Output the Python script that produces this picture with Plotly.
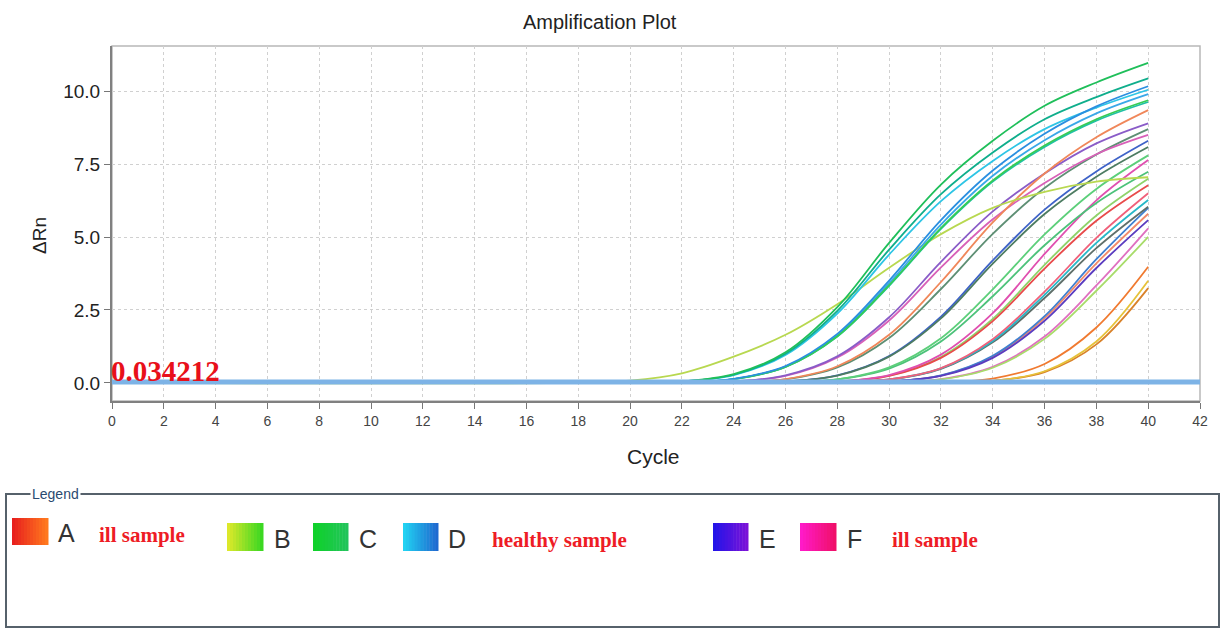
import plotly.graph_objects as go

# ---------------- data ----------------
CYCLES = [1, 18, 20, 22, 24, 26, 28, 30, 32, 34, 36, 38, 40]
X_TICKS = list(range(0, 43, 2))
Y_TICKS = [0.0, 2.5, 5.0, 7.5, 10.0]
THRESHOLD = 0.034212

# group C (green) / D (cyan-blue): healthy samples, early rise
c_green_1 = [0, 0, 0, .05, .30, 1.05, 2.60, 4.80, 6.80, 8.30, 9.50, 10.30, 10.97]
c_teal_2 = [0, 0, 0, .05, .28, 1.00, 2.47, 4.57, 6.47, 7.90, 9.04, 9.80, 10.44]
d_blue_3 = [0, 0, 0, .02, .14, .58, 1.68, 3.51, 5.58, 7.28, 8.54, 9.48, 10.17]
d_cyan_4 = [0, 0, 0, .05, .27, .96, 2.38, 4.40, 6.23, 7.61, 8.70, 9.44, 10.05]
c_green_5 = [0, 0, 0, .02, .13, .55, 1.60, 3.35, 5.31, 6.94, 8.14, 9.04, 9.69]
c_teal_6 = [0, 0, 0, .02, .13, .55, 1.59, 3.33, 5.28, 6.90, 8.09, 8.99, 9.63]
d_cyan_7 = [0, 0, 0, .02, .13, .56, 1.63, 3.42, 5.43, 7.10, 8.32, 9.24, 9.90]
b_yellow_8 = [0, .01, .08, .33, .90, 1.65, 2.70, 3.95, 5.10, 6.00, 6.55, 6.90, 7.05]
a_orange_9 = [0, 0, 0, 0, .02, .13, .57, 1.65, 3.46, 5.50, 7.18, 8.42, 9.35]
e_purple_10 = [0, 0, 0, 0, .05, .26, .91, 2.25, 4.15, 5.88, 7.18, 8.21, 8.90]
f_magenta_11 = [0, 0, 0, 0, .05, .24, .87, 2.14, 3.96, 5.61, 6.85, 7.84, 8.50]
x_gray_12 = [0, 0, 0, 0, .02, .12, .53, 1.54, 3.22, 5.11, 6.68, 7.83, 8.70]
x_gray_13 = [0, 0, 0, 0, 0, .05, .25, .90, 2.21, 4.09, 5.79, 7.07, 8.09]
e_blue_14 = [0, 0, 0, 0, 0, .05, .26, .92, 2.27, 4.20, 5.94, 7.25, 8.30]
c_green_15 = [0, 0, 0, 0, 0, .02, .12, .53, 1.53, 3.21, 5.09, 6.65, 7.80]
c_green_16 = [0, 0, 0, 0, 0, .02, .12, .49, 1.42, 2.97, 4.72, 6.17, 7.24]
f_magenta_17 = [0, 0, 0, 0, 0, 0, .05, .27, .97, 2.39, 4.42, 6.26, 7.64]
a_red_18 = [0, 0, 0, 0, 0, 0, .04, .24, .86, 2.12, 3.92, 5.56, 6.78]
b_lime_19 = [0, 0, 0, 0, 0, 0, .05, .25, .89, 2.19, 4.05, 5.74, 7.00]
a_pink_20 = [0, 0, 0, 0, 0, 0, .02, .12, .51, 1.50, 3.13, 4.97, 6.50]
d_cyan_21 = [0, 0, 0, 0, 0, 0, .02, .12, .50, 1.44, 3.02, 4.80, 6.27]
x_gray_22 = [0, 0, 0, 0, 0, 0, .02, .11, .48, 1.39, 2.91, 4.62, 6.04]
e_purple_23 = [0, 0, 0, 0, 0, 0, 0, .05, .24, .86, 2.13, 3.94, 5.58]
d_blue_24 = [0, 0, 0, 0, 0, 0, 0, .05, .26, .93, 2.29, 4.24, 6.00]
a_salmon_25 = [0, 0, 0, 0, 0, 0, 0, .05, .25, .90, 2.22, 4.10, 5.80]
b_lime_26 = [0, 0, 0, 0, 0, 0, 0, .02, .12, .52, 1.51, 3.16, 5.01]
f_pink_27 = [0, 0, 0, 0, 0, 0, 0, .02, .13, .55, 1.59, 3.34, 5.30]
a_orange_28 = [0, 0, 0, 0, 0, 0, 0, 0, .02, .15, .65, 1.90, 3.98]
a_orange_29 = [0, 0, 0, 0, 0, 0, 0, 0, 0, .07, .37, 1.32, 3.25]
b_yellow_30 = [0, 0, 0, 0, 0, 0, 0, 0, 0, .07, .40, 1.42, 3.50]

LEGEND_LETTERS = ["A", "B", "C", "D", "E", "F"]
LEGEND_NOTES = ["ill sample", "healthy sample", "ill sample"]

# ---------------- styling ----------------
curves = [
    (a_orange_29, "#d9822a"), (b_yellow_30, "#e6c23a"), (a_orange_28, "#f07a30"),
    (f_pink_27, "#e070c0"), (b_lime_26, "#a8dc6a"), (a_salmon_25, "#f28a6a"),
    (d_blue_24, "#3f7fd0"), (e_purple_23, "#5a3cc0"), (x_gray_22, "#5f6f6a"),
    (d_cyan_21, "#28b8c8"), (a_pink_20, "#f0607a"), (b_lime_19, "#8fd36a"),
    (a_red_18, "#e84a4a"), (f_magenta_17, "#e04fb0"), (c_green_16, "#4cc27a"),
    (c_green_15, "#5ccf7a"), (e_blue_14, "#3f63c8"), (x_gray_13, "#4d7c62"),
    (x_gray_12, "#5e8f74"), (f_magenta_11, "#d860b8"), (e_purple_10, "#8a5cc8"),
    (a_orange_9, "#f0875a"), (b_yellow_8, "#b8d850"), (d_cyan_7, "#3aa8e8"),
    (c_teal_6, "#20c0a8"), (c_green_5, "#35cc55"), (d_cyan_4, "#2ec5e5"),
    (d_blue_3, "#2b8fe0"), (c_teal_2, "#0fae8c"), (c_green_1, "#1fbf5a"),
]

L, R, T, B = 112, 1200, 46, 401
W, H = R - L, B - T


def px(x):
    return (x - L) / W


def py(y):
    return (B - y) / H


fig = go.Figure()
for vals, col in curves:
    fig.add_trace(go.Scatter(x=CYCLES, y=vals, mode="lines",
                             line=dict(color=col, width=1.8, shape="spline"),
                             hoverinfo="skip", showlegend=False))

fig.add_trace(go.Scatter(x=[X_TICKS[0], X_TICKS[-1]], y=[THRESHOLD, THRESHOLD],
                         mode="lines", line=dict(color="#7db3e6", width=5),
                         hoverinfo="skip", showlegend=False))

SANS = "Liberation Sans, Arial, sans-serif"
SERIF = "Liberation Serif, Times New Roman, serif"

annotations = [
    dict(x=px(600), y=py(22), text="Amplification Plot", font=dict(family=SANS, size=20, color="#222")),
    dict(x=px(40), y=py(236), text="ΔRn", textangle=-90, font=dict(family=SANS, size=19, color="#222")),
    dict(x=px(653), y=py(456), text="Cycle", font=dict(family=SANS, size=21, color="#222")),
    dict(x=px(110), y=py(388), text=f"<b>{THRESHOLD:.6f}</b>", xanchor="left", yanchor="bottom",
         font=dict(family=SERIF, size=29, color="#e8101a"), borderpad=0),
    dict(x=px(55), y=py(494), text="Legend", bgcolor="white",
         font=dict(family=SANS, size=14, color="#2a4a70")),
]

shapes = [
    dict(type="rect", xref="paper", yref="paper", x0=0, y0=0, x1=1, y1=1,
         line=dict(color="#b8b8b8", width=1.5), layer="below"),
    dict(type="rect", xref="paper", yref="paper", x0=px(6), y0=py(494), x1=px(1219), y1=py(627),
         line=dict(color="#56616b", width=2)),
]

# legend swatches with horizontal gradient
swatches = [
    ((12, 518, 48, 545), ("#e8201e", "#ff781e")),
    ((227, 523, 263, 551), ("#dce82a", "#3cd822")),
    ((313, 523, 348, 551), ("#0fd12a", "#22c45a")),
    ((403, 523, 438, 551), ("#22d2f2", "#1e6ad0")),
    ((713, 523, 748, 551), ("#2414e8", "#7a12d8")),
    ((800, 523, 836, 551), ("#ff1ac8", "#f0106a")),
]
letter_x = [66, 282, 368, 457, 767, 854]


def hex2rgb(h):
    return tuple(int(h[i:i + 2], 16) for i in (1, 3, 5))


NSTRIP = 12
for (x0, y0, x1, y1), (c0, c1) in swatches:
    a, b = hex2rgb(c0), hex2rgb(c1)
    step = (x1 - x0) / NSTRIP
    for k in range(NSTRIP):
        f = k / (NSTRIP - 1)
        rgb = tuple(round(a[i] + (b[i] - a[i]) * f) for i in range(3))
        shapes.append(dict(type="rect", xref="paper", yref="paper",
                           x0=px(x0 + k * step), x1=px(x0 + (k + 1) * step + 0.5),
                           y0=py(y1), y1=py(y0), line=dict(width=0),
                           fillcolor="rgb(%d,%d,%d)" % rgb))

for i, letter in enumerate(LEGEND_LETTERS):
    ycen = 533 if i == 0 else 539
    annotations.append(dict(x=px(letter_x[i]), y=py(ycen), text=letter,
                            font=dict(family=SANS, size=25, color="#333")))

note_pos = [(97, 535), (490, 540), (890, 540)]
for (nx, ny), note in zip(note_pos, LEGEND_NOTES):
    annotations.append(dict(x=px(nx), y=py(ny), text=f"<b>{note}</b>", xanchor="left",
                            font=dict(family=SERIF, size=21, color="#ee1c25")))

for a in annotations:
    a.setdefault("xref", "paper")
    a.setdefault("yref", "paper")
    a.setdefault("showarrow", False)
    a.setdefault("xanchor", "center")
    a.setdefault("yanchor", "middle")

fig.update_layout(
    width=1226, height=630,
    margin=dict(l=L, r=1226 - R, t=T, b=630 - B),
    paper_bgcolor="white", plot_bgcolor="white",
    annotations=annotations, shapes=shapes,
    xaxis=dict(range=[0, 42], tickvals=X_TICKS, showgrid=True, gridcolor="#d0d0d0",
               griddash="dot", gridwidth=1, zeroline=False, showline=True,
               linecolor="#808080", linewidth=2, ticks="outside", ticklen=6,
               tickcolor="#777", tickfont=dict(family=SANS, size=14, color="#444")),
    yaxis=dict(range=[-0.62, 11.55], tickvals=Y_TICKS, tickformat=".1f", showgrid=True,
               gridcolor="#d0d0d0", griddash="dot", gridwidth=1, zeroline=False,
               showline=True, linecolor="#808080", linewidth=2, ticks="outside",
               ticklen=6, tickcolor="#777", tickfont=dict(family=SANS, size=19, color="#222")),
)

fig.write_html("out.html")
